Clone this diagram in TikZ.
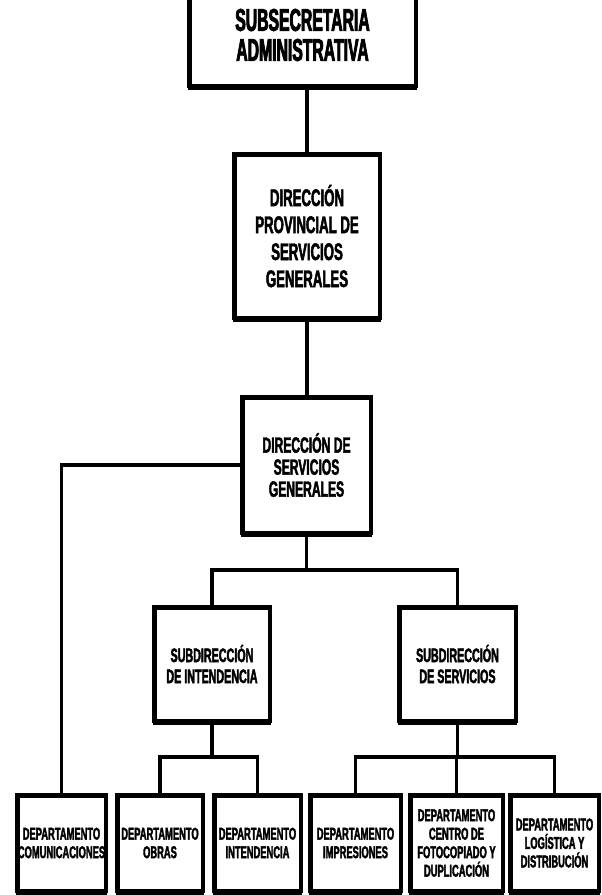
\documentclass[tikz,border=0pt]{standalone}
\usepackage{fontspec}
\newfontfamily\cond[FakeStretch=0.55,FakeBold=2]{Liberation Sans}
\newfontfamily\condtop[FakeStretch=0.5,FakeBold=2.5]{Liberation Sans}
\begin{document}
\begin{tikzpicture}[x=1pt,y=-1pt,
  box/.style={draw, line width=4.5pt, fill=white, inner sep=0pt, outer sep=0pt, align=center},
  conn/.style={line width=3.5pt},
  ftop/.style={font=\condtop\bfseries\fontsize{31.5}{30}\selectfont},
  fdps/.style={font=\cond\bfseries\fontsize{24}{27}\selectfont},
  fdsg/.style={font=\cond\bfseries\fontsize{22}{22}\selectfont},
  fsub/.style={font=\cond\bfseries\fontsize{19.5}{21}\selectfont},
  fdep/.style={font=\cond\bfseries\fontsize{17}{18.5}\selectfont},
  bot/.style={line width=4pt, line cap=rect}]
\useasboundingbox (0,0) rectangle (602,895);
% coordinates for buses
\coordinate (busA) at (306.5,570);
\coordinate (busB) at (212,757);
\coordinate (busC) at (457.5,757);
% nodes
\node[box, ftop, minimum width=226.5pt, minimum height=101.5pt] (top) at (302.5,35) {SUBSECRETARIA\\ADMINISTRATIVA};
\node[box, fdps, minimum width=145.5pt, minimum height=163.5pt] (dps) at (307,236) {DIRECCIÓN\\PROVINCIAL DE\\SERVICIOS\\GENERALES};
\node[box, fdsg, minimum width=128.5pt, minimum height=135.5pt] (dsg) at (306.5,465) {DIRECCIÓN DE\\SERVICIOS\\GENERALES};
\node[box, fsub, minimum width=115.5pt, minimum height=113.5pt] (subI) at (212,664) {SUBDIRECCIÓN\\DE INTENDENCIA};
\node[box, fsub, minimum width=116.5pt, minimum height=113.5pt] (subS) at (457.5,664) {SUBDIRECCIÓN\\DE SERVICIOS};
\node[box, fdep, minimum width=88.5pt, minimum height=95.5pt] (b1) at (61.5,843) {DEPARTAMENTO\\COMUNICACIONES};
\node[box, fdep, minimum width=85.5pt, minimum height=95.5pt] (b2) at (160,843) {DEPARTAMENTO\\OBRAS};
\node[box, fdep, minimum width=86.5pt, minimum height=95.5pt] (b3) at (257.5,843) {DEPARTAMENTO\\INTENDENCIA};
\node[box, fdep, minimum width=90.5pt, minimum height=95.5pt] (b4) at (355.5,843) {DEPARTAMENTO\\IMPRESIONES};
\node[box, fdep, minimum width=92.5pt, minimum height=95.5pt] (b5) at (456.5,843) {DEPARTAMENTO\\CENTRO DE\\FOTOCOPIADO Y\\DUPLICACIÓN};
\node[box, fdep, minimum width=88.5pt, minimum height=95.5pt] (b6) at (554.5,843) {DEPARTAMENTO\\LOGÍSTICA Y\\DISTRIBUCIÓN};
% thicker bottom borders
\foreach \n in {top,dps,dsg,subI,subS,b1,b2,b3,b4,b5,b6}
  \draw[bot] ([xshift=1pt,yshift=-2pt]\n.south west) -- ([xshift=-1pt,yshift=-2pt]\n.south east);
% connectors
\draw[conn] (dps.north) -- (dps.north |- top.south);
\draw[conn] (dps.south) -- (dps.south |- dsg.north);
\draw[conn] (dsg.west) -| (b1.north);
\draw[conn] (dsg.south) -- (dsg.south |- busA);
\draw[conn] (subI.north) -- (subI.north |- busA) -- (subS.north |- busA) -- (subS.north);
\draw[conn] (subI.south) -- (subI.south |- busB);
\draw[conn] (b2.north) -- (b2.north |- busB) -- (b3.north |- busB) -- (b3.north);
\draw[conn] (subS.south) -- (subS.south |- busC);
\draw[conn] (b4.north) -- (b4.north |- busC) -- (b6.north |- busC) -- (b6.north);
\draw[conn] (b5.north) -- (b5.north |- busC);
\end{tikzpicture}
\end{document}
